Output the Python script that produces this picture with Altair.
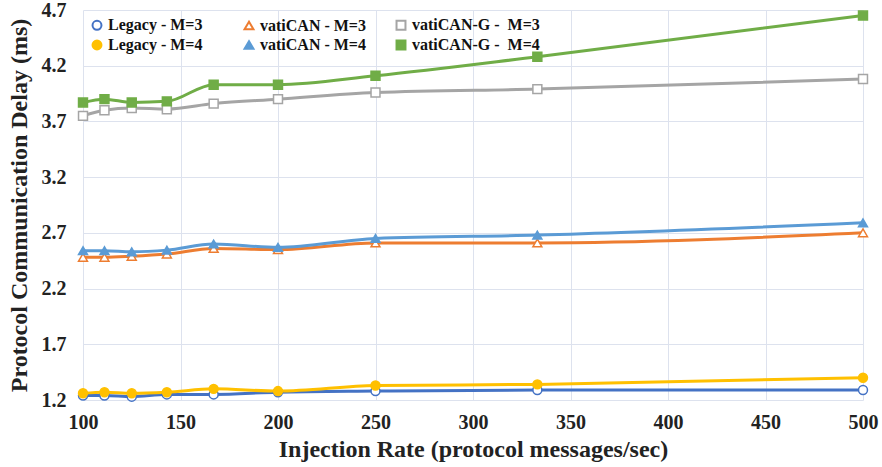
import altair as alt
import pandas as pd

# Injection rates (protocol messages/sec)
rates = [100, 111, 125, 143, 167, 200, 250, 333, 500]

series_names = [
    "Legacy - M=3",
    "vatiCAN - M=3",
    "vatiCAN-G -\u00a0 M=3",
    "Legacy - M=4",
    "vatiCAN - M=4",
    "vatiCAN-G -\u00a0 M=4",
]

legacy_m3 = [1.24, 1.24, 1.23, 1.25, 1.25, 1.27, 1.28, 1.29, 1.29]
vatican_m3 = [2.48, 2.48, 2.49, 2.51, 2.56, 2.55, 2.61, 2.61, 2.70]
vaticang_m3 = [3.75, 3.80, 3.82, 3.81, 3.86, 3.90, 3.96, 3.99, 4.08]
legacy_m4 = [1.26, 1.27, 1.26, 1.27, 1.30, 1.28, 1.33, 1.34, 1.40]
vatican_m4 = [2.54, 2.54, 2.53, 2.545, 2.60, 2.57, 2.65, 2.68, 2.79]
vaticang_m4 = [3.87, 3.90, 3.87, 3.88, 4.03, 4.03, 4.11, 4.28, 4.65]

line_colors = ["#4472C4", "#ED7D31", "#A5A5A5", "#FFC000", "#5B9BD5", "#70AD47"]
fill_colors = ["#FFFFFF", "#FFFFFF", "#FFFFFF", "#FFC000", "#5B9BD5", "#70AD47"]
shapes = ["circle", "triangle-up", "square", "circle", "triangle-up", "square"]

y_ticks = [1.2, 1.7, 2.2, 2.7, 3.2, 3.7, 4.2, 4.7]
x_ticks = [100, 150, 200, 250, 300, 350, 400, 450, 500]

all_values = [legacy_m3, vatican_m3, vaticang_m3, legacy_m4, vatican_m4, vaticang_m4]
rows = []
for name, vals in zip(series_names, all_values):
    for r, v in zip(rates, vals):
        rows.append({"rate": r, "delay": v, "series": name})
df = pd.DataFrame(rows)

FONT = "Liberation Serif"

x_enc = alt.X(
    "rate:Q",
    scale=alt.Scale(domain=[100, 500], nice=False),
    axis=alt.Axis(
        values=x_ticks,
        title="Injection Rate (protocol messages/sec)",
        grid=True,
    ),
)
y_enc = alt.Y(
    "delay:Q",
    scale=alt.Scale(domain=[1.2, 4.7], nice=False, zero=False),
    axis=alt.Axis(
        values=y_ticks,
        format=".1f",
        title="Protocol Communication Delay (ms)",
        grid=True,
    ),
)

stroke_scale = alt.Scale(domain=series_names, range=line_colors)
legend = alt.Legend(
    title=None,
    orient="none",
    legendX=6,
    legendY=7,
    columns=3,
    direction="horizontal",
    gridAlign="all",
    columnPadding=4,
    rowPadding=2,
    labelFont=FONT,
    labelFontSize=16,
    labelFontWeight="bold",
    labelColor="#111111",
    symbolSize=80,
    symbolStrokeWidth=2,
    labelOffset=3,
)

lines = alt.Chart(df).mark_line(interpolate="monotone", strokeWidth=3).encode(
    x=x_enc,
    y=y_enc,
    stroke=alt.Stroke("series:N", scale=stroke_scale, legend=legend, sort=series_names),
    detail="series:N",
)

points = alt.Chart(df).mark_point(size=80, strokeWidth=1.5, opacity=1, filled=False).encode(
    x=x_enc,
    y=y_enc,
    stroke=alt.Stroke("series:N", scale=stroke_scale, legend=legend, sort=series_names),
    fill=alt.Fill("series:N", scale=alt.Scale(domain=series_names, range=fill_colors), legend=legend, sort=series_names),
    shape=alt.Shape("series:N", scale=alt.Scale(domain=series_names, range=shapes), legend=legend, sort=series_names),
)

chart = (
    alt.layer(lines, points)
    .properties(
        width=780,
        height=390,
        autosize=alt.AutoSizeParams(type="none"),
        padding={"left": 83, "top": 10, "right": 19, "bottom": 67},
        background="#FFFFFF",
    )
    .configure_view(stroke=None)
    .configure_axis(
        labelFont=FONT,
        labelFontSize=20,
        labelFontWeight="bold",
        labelColor="#222222",
        titleFont=FONT,
        titleFontSize=24,
        titleFontWeight="bold",
        titleColor="#222222",
        gridColor="#DDE2EE",
        gridWidth=1,
        domain=False,
        ticks=False,
    )
    .configure_axisY(labelPadding=17, titlePadding=10)
    .configure_axisX(labelPadding=12, titlePadding=5, labelFlush=False)
)

chart.save("out.html", embed_options={"renderer": "svg", "actions": False})
